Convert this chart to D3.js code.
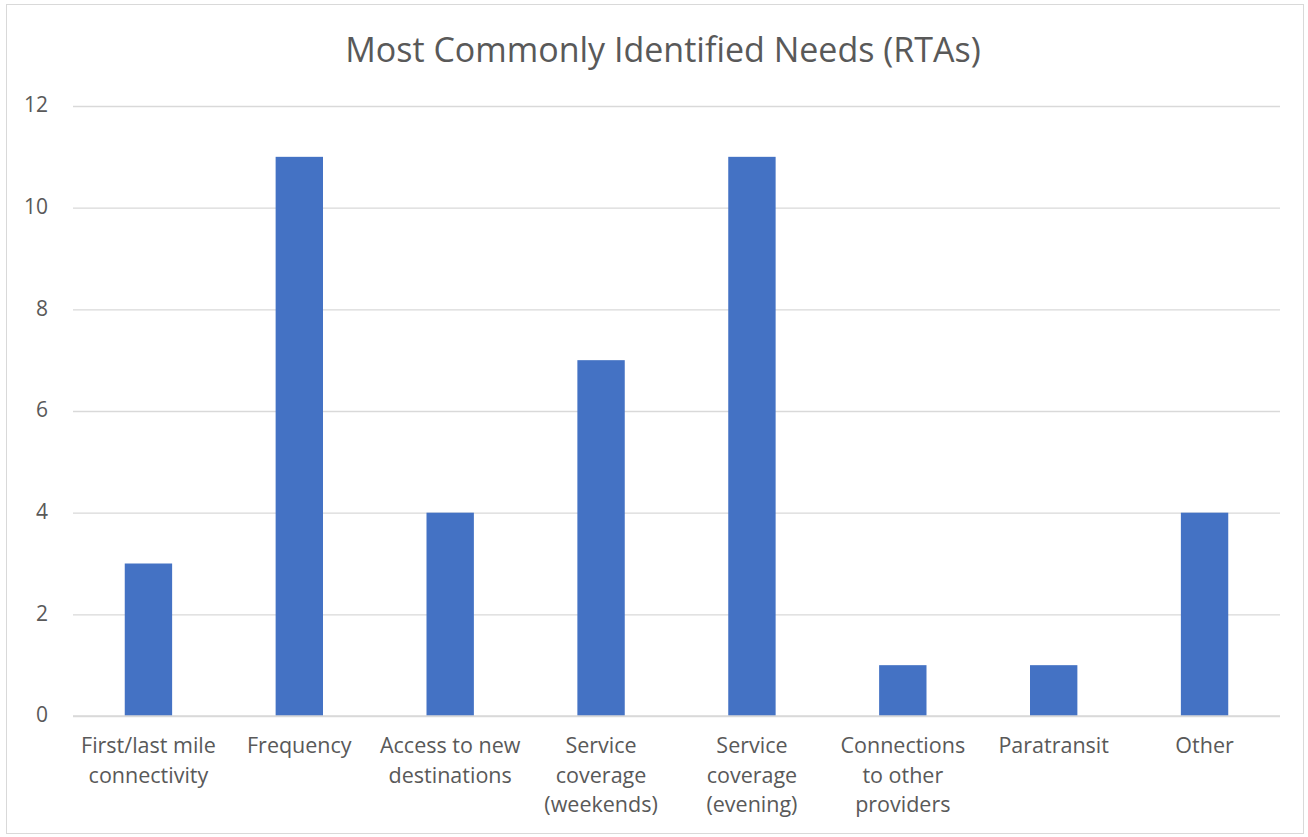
<!DOCTYPE html>
<html><head><meta charset="utf-8">
<script src="https://cdn.jsdelivr.net/npm/d3@7"></script>
<style>body{margin:0;background:#fff;} svg{display:block;font-family:"Open Sans","Noto Sans",sans-serif;}</style>
</head><body>
<svg id="c" width="1308" height="837"></svg>
<script>
const categories = [
  ["First/last mile","connectivity"],
  ["Frequency"],
  ["Access to new","destinations"],
  ["Service","coverage","(weekends)"],
  ["Service","coverage","(evening)"],
  ["Connections","to other","providers"],
  ["Paratransit"],
  ["Other"]
];
const values = [3, 11, 4, 7, 11, 1, 1, 4];
const yTicks = [0, 2, 4, 6, 8, 10, 12];
const title = "Most Commonly Identified Needs (RTAs)";

const svg = d3.select("#c");
svg.append("rect").attr("x",6.5).attr("y",4.5).attr("width",1297).attr("height",829)
  .attr("fill","#fff").attr("stroke","#d9d9d9");

const m = {left:73, right:1280, top:106, bottom:716};
const x = d3.scaleBand().domain(d3.range(categories.length)).range([m.left,m.right]).paddingInner(0.686).paddingOuter(0.343);
const y = d3.scaleLinear().domain([0,12]).range([m.bottom,m.top]);

svg.append("text").attr("x",663).attr("y",62).attr("text-anchor","middle")
  .attr("font-size",34).attr("fill","#595959").text(title);

const yAxis = d3.axisLeft(y).tickValues(yTicks).tickSize(-(m.right-m.left)).tickPadding(25);
const ga = svg.append("g").attr("transform",`translate(${m.left},0)`).call(yAxis);
ga.select(".domain").remove();
ga.selectAll(".tick line").attr("stroke","#d9d9d9").attr("stroke-width",1.3);
ga.selectAll(".tick text").attr("fill","#595959").attr("font-size",21).attr("font-family","Open Sans, Noto Sans, sans-serif").attr("dy","0.28em");

svg.selectAll("rect.bar").data(values).join("rect").attr("class","bar")
  .attr("x",(d,i)=>x(i)).attr("width",x.bandwidth())
  .attr("y",d=>y(d)).attr("height",d=>y(0)-y(d)).attr("fill","#4472C4");

svg.append("line").attr("x1",m.left).attr("x2",m.right).attr("y1",y(0)).attr("y2",y(0))
  .attr("stroke","#d9d9d9").attr("stroke-width",1.3);

const lbl = svg.append("g");
categories.forEach((lines,i)=>{
  const t = lbl.append("text").attr("text-anchor","middle").attr("font-size",21.5).attr("fill","#595959");
  lines.forEach((s,j)=>{
    t.append("tspan").attr("x",x(i)+x.bandwidth()/2).attr("y",753+j*29.5).text(s);
  });
});
</script>
</body></html>
